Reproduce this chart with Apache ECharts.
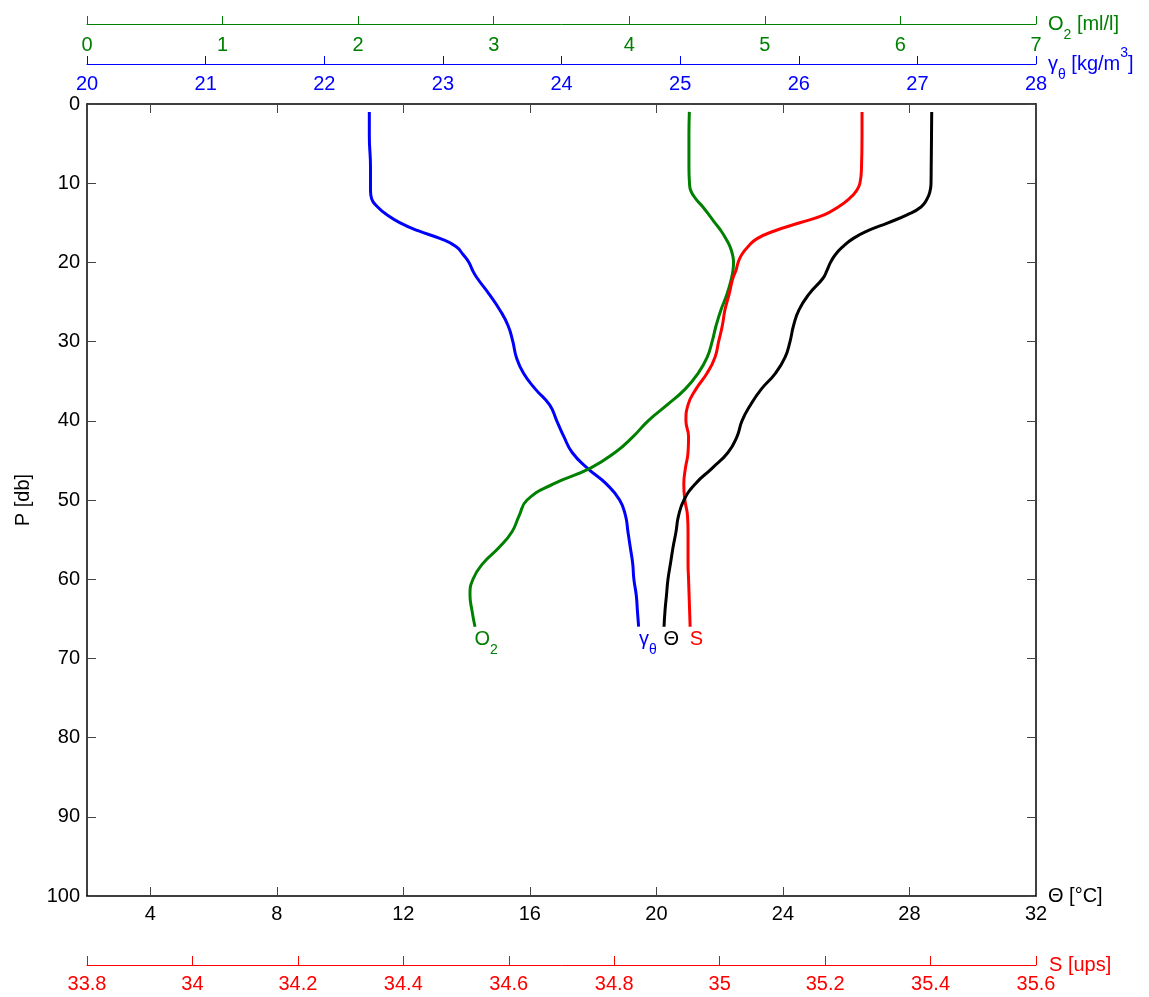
<!DOCTYPE html>
<html><head><meta charset="utf-8">
<script src="https://cdn.jsdelivr.net/npm/echarts@6/dist/echarts.min.js"></script>
<style>html,body{margin:0;padding:0;background:#fff}#c{width:1149px;height:997px}</style>
</head><body><div id="c"></div>
<script>
// Pressure levels [db]
const pressure = [1,4,8,10,11,12,13,14,15,16,17,18,19,20,21,22,24,26,28,30,32,34,36,38,40,42,44,46,48,50,52,54,56,58,60,62,64,66];
// Conservative temperature Θ [°C]
const theta = [28.703,28.697,28.687,28.681,28.650,28.555,28.365,27.922,27.322,26.689,26.215,25.899,25.662,25.504,25.393,25.267,
  24.824,24.508,24.334,24.224,24.066,23.762,23.316,22.975,22.706,22.548,22.263,21.758,21.220,20.872,20.699,20.620,20.525,20.446,20.366,20.319,20.272,20.241];
// Salinity S [ups]
const salinity = [35.270,35.270,35.269,35.266,35.259,35.245,35.225,35.198,35.152,35.105,35.071,35.054,35.042,35.035,35.031,35.025,
  35.018,35.010,35.005,34.998,34.991,34.976,34.955,34.940,34.936,34.941,34.940,34.935,34.932,34.934,34.939,34.940,34.940,34.940,34.941,34.942,34.943,34.944];
// Density anomaly γθ [kg/m3]
const gammaTheta = [22.38,22.38,22.39,22.39,22.39,22.40,22.45,22.53,22.64,22.79,22.98,23.11,23.17,23.22,23.25,23.29,
  23.39,23.48,23.55,23.59,23.62,23.68,23.78,23.90,23.96,24.02,24.09,24.22,24.38,24.49,24.54,24.56,24.58,24.60,24.61,24.63,24.64,24.65];
// Oxygen O2 [ml/l]
const oxygen = [4.443,4.440,4.440,4.444,4.455,4.492,4.543,4.588,4.632,4.676,4.713,4.743,4.761,4.769,4.765,4.754,
  4.721,4.676,4.640,4.611,4.574,4.508,4.412,4.279,4.139,4.028,3.895,3.710,3.437,3.246,3.187,3.135,3.039,2.921,2.847,2.825,2.840,2.862];

// Tick values
const thetaTicks = [4,8,12,16,20,24,28,32];
const salinityTicks = [33.8,34.0,34.2,34.4,34.6,34.8,35.0,35.2,35.4,35.6];
const oxygenTicks = [0,1,2,3,4,5,6,7];
const gammaTicks = [20,21,22,23,24,25,26,27,28];
const pressureTicks = [0,10,20,30,40,50,60,70,80,90,100];

const FONT = 'Liberation Sans, Arial, sans-serif';
const GREEN = '#008000', BLUE = '#0000ff', RED = '#ff0000', BLACK = '#000000';
const TICKC = '#444';
const FS = 20;

function pts(vals){ return pressure.map((p,i)=>[vals[i], p]); }
function lastPt(vals){ return [[vals[vals.length-1], pressure[pressure.length-1]]]; }

const rich = {
  m: {fontFamily: FONT, fontSize: FS, lineHeight: 36},
  sub: {fontFamily: FONT, fontSize: 14, lineHeight: 14, verticalAlign: 'bottom'},
  sup: {fontFamily: FONT, fontSize: 14, lineHeight: 14, verticalAlign: 'top'}
};
function richC(color){
  const r = {};
  for (const k in rich) r[k] = Object.assign({color, textBorderWidth: 0, opacity: 1}, rich[k]);
  return r;
}
function endLabel(axisIdx, vals, text, color, dx){
  return {type: 'scatter', xAxisIndex: axisIdx, yAxisIndex: 0, data: lastPt(vals),
    symbol: 'circle', symbolSize: 1, itemStyle: {color: 'rgba(0,0,0,0)'}, silent: true, z: 5,
    label: {show: true, position: [dx, 13], align: 'left', verticalAlign: 'middle',
      color: color, textBorderWidth: 0, opacity: 1,
      formatter: text, rich: richC(color)}};
}

const chart = echarts.init(document.getElementById('c'), null, {renderer:'canvas'});
chart.setOption({
  animation: false,
  backgroundColor: '#fff',
  textStyle: {fontFamily: FONT},
  grid: {left: 87, right: 113, top: 104, bottom: 101},
  xAxis: [
    { // 0 Θ bottom
      type: 'value', min: 2, max: 32, position: 'bottom',
      axisLine: {onZero: false, lineStyle: {color: BLACK, width: 1.5}},
      axisTick: {inside: true, length: 9, customValues: thetaTicks, lineStyle: {color: TICKC}},
      axisLabel: {customValues: thetaTicks, color: BLACK, fontSize: FS, fontFamily: FONT, margin: 8},
      splitLine: {show: false},
      name: '{m|Θ [°C]}', nameLocation: 'end', nameGap: 12, nameMoveOverlap: false,
      nameTextStyle: {rich: richC(BLACK), verticalAlign: 'middle'}
    },
    { // 1 Θ top duplicate (box)
      type: 'value', min: 2, max: 32, position: 'top',
      axisLine: {onZero: false, lineStyle: {color: BLACK, width: 1.5}},
      axisTick: {inside: true, length: 9, customValues: thetaTicks, lineStyle: {color: TICKC}},
      axisLabel: {show: false},
      splitLine: {show: false}
    },
    { // 2 O2 top
      type: 'value', min: 0, max: 7, position: 'top', offset: 80,
      axisLine: {onZero: false, lineStyle: {color: GREEN, width: 1}},
      axisTick: {inside: false, length: 8, customValues: oxygenTicks, lineStyle: {color: GREEN}},
      axisLabel: {inside: true, customValues: oxygenTicks, color: GREEN, fontSize: FS, fontFamily: FONT, margin: 11},
      splitLine: {show: false},
      name: '{m|O}{sub|2}{m| [ml/l]}', nameLocation: 'end', nameGap: 12, nameMoveOverlap: false,
      nameTextStyle: {rich: richC(GREEN), verticalAlign: 'middle'}
    },
    { // 3 γθ top
      type: 'value', min: 20, max: 28, position: 'top', offset: 40,
      axisLine: {onZero: false, lineStyle: {color: BLUE, width: 1}},
      axisTick: {inside: false, length: 8, customValues: gammaTicks, lineStyle: {color: BLUE}},
      axisLabel: {inside: true, customValues: gammaTicks, color: BLUE, fontSize: FS, fontFamily: FONT, margin: 10},
      splitLine: {show: false},
      name: '{m|γ}{sub|θ}{m| [kg/m}{sup|3}{m|]}', nameLocation: 'end', nameGap: 12, nameMoveOverlap: false,
      nameTextStyle: {rich: richC(BLUE), verticalAlign: 'middle'}
    },
    { // 4 S bottom
      type: 'value', min: 33.8, max: 35.6, position: 'bottom', offset: 69,
      axisLine: {onZero: false, lineStyle: {color: RED, width: 1}},
      axisTick: {inside: true, length: 9, customValues: salinityTicks, lineStyle: {color: RED}},
      axisLabel: {customValues: salinityTicks, color: RED, fontSize: FS, fontFamily: FONT, margin: 9},
      splitLine: {show: false},
      name: '{m|S [ups]}', nameLocation: 'end', nameGap: 13, nameMoveOverlap: false,
      nameTextStyle: {rich: richC(RED), verticalAlign: 'middle'}
    }
  ],
  yAxis: [
    {
      type: 'value', min: 0, max: 100, interval: 10, inverse: true, position: 'left',
      axisLine: {onZero: false, lineStyle: {color: BLACK, width: 1.5}},
      axisTick: {inside: true, length: 9, lineStyle: {color: TICKC}},
      axisLabel: {color: BLACK, fontSize: FS, fontFamily: FONT, margin: 7, customValues: pressureTicks},
      splitLine: {show: false},
      name: 'P [db]', nameLocation: 'middle', nameRotate: 90, nameGap: 54,
      nameTextStyle: {color: BLACK, fontSize: FS, fontFamily: FONT}
    },
    {
      type: 'value', min: 0, max: 100, interval: 10, inverse: true, position: 'right',
      axisLine: {onZero: false, lineStyle: {color: BLACK, width: 1.5}},
      axisTick: {inside: true, length: 9, lineStyle: {color: TICKC}},
      axisLabel: {show: false},
      splitLine: {show: false}
    }
  ],
  series: [
    {type: 'line', name: 'gamma', xAxisIndex: 3, yAxisIndex: 0, data: pts(gammaTheta), symbol: 'none', smooth: 0.5,
      lineStyle: {color: BLUE, width: 3}},
    {type: 'line', name: 'O2', xAxisIndex: 2, yAxisIndex: 0, data: pts(oxygen), symbol: 'none', smooth: 0.5,
      lineStyle: {color: GREEN, width: 3}},
    {type: 'line', name: 'S', xAxisIndex: 4, yAxisIndex: 0, data: pts(salinity), symbol: 'none', smooth: 0.5,
      lineStyle: {color: RED, width: 3}},
    {type: 'line', name: 'Theta', xAxisIndex: 0, yAxisIndex: 0, data: pts(theta), symbol: 'none', smooth: 0.5,
      lineStyle: {color: BLACK, width: 3}},
    endLabel(2, oxygen, '{m|O}{sub|2}', GREEN, 0),
    endLabel(3, gammaTheta, '{m|γ}{sub|θ}', BLUE, 1),
    endLabel(0, theta, '{m|Θ}', BLACK, 0),
    endLabel(4, salinity, '{m|S}', RED, 0)
  ]
});
</script>
</body></html>
